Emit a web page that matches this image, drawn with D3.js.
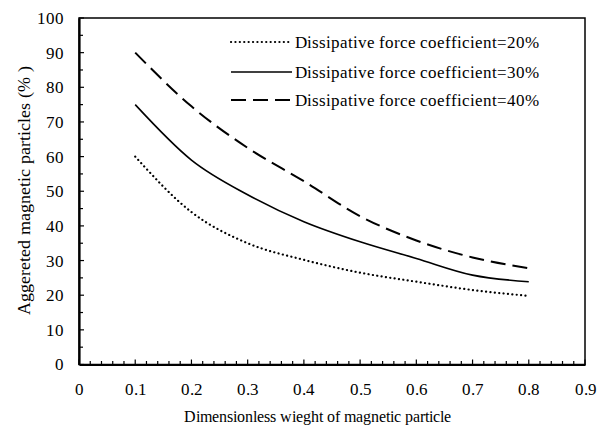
<!DOCTYPE html>
<html>
<head>
<meta charset="utf-8">
<script src="https://cdn.jsdelivr.net/npm/d3@7"></script>
<style>
  @font-face {
    font-family: "ChartSerif";
    src: local("Liberation Serif"), local("LiberationSerif"), local("LiberationSerif-Regular"),
         local("Tinos"), local("Tinos-Regular"), local("Times New Roman"), local("TimesNewRomanPSMT"),
         local("Nimbus Roman"), local("NimbusRoman-Regular"), local("Nimbus Roman No9 L"),
         local("FreeSerif"), local("Noto Serif"), local("NotoSerif-Regular"),
         local("DejaVu Serif"), local("DejaVuSerif");
  }
  html, body { margin: 0; padding: 0; background: #fff; }
  svg text { font-family: "ChartSerif", "Liberation Serif", "DejaVu Serif", serif !important; fill: #000; }
</style>
</head>
<body>
<svg id="chart" width="603" height="429"></svg>
<script>
// Dimensionless weight of the magnetic particle
const weights = [0.1, 0.2, 0.3, 0.4, 0.5, 0.6, 0.7, 0.8];
// Aggregated magnetic particles (%) per dissipative force coefficient
const coef20 = [60, 44, 35, 30.2, 26.5, 23.9, 21.5, 19.8];
const coef30 = [75, 59, 49, 41.2, 35.4, 30.6, 25.8, 23.9];
const coef40 = [90, 74.5, 62.5, 52.9, 42.8, 35.8, 30.9, 27.8];
const seriesNames = [
  "Dissipative force coefficient=20%",
  "Dissipative force coefficient=30%",
  "Dissipative force coefficient=40%"
];
const xTicks = [0, 0.1, 0.2, 0.3, 0.4, 0.5, 0.6, 0.7, 0.8, 0.9];
const yTicks = [0, 10, 20, 30, 40, 50, 60, 70, 80, 90, 100];

const svg = d3.select("#chart");
const m = { left: 79, right: 18, top: 18, bottom: 64.5 };
const W = 603, H = 429;

const x = d3.scaleLinear().domain([0, 0.9]).range([m.left, W - m.right]);
const y = d3.scaleLinear().domain([0, 100]).range([H - m.bottom, m.top]);

const FS = 17;
const SERIF = "ChartSerif, 'Liberation Serif', 'DejaVu Serif', serif";

// plot frame
svg.append("rect")
  .attr("x", x(0)).attr("y", y(100))
  .attr("width", x(0.9) - x(0)).attr("height", y(0) - y(100))
  .attr("fill", "none").attr("stroke", "#000").attr("stroke-width", 1.5);

// minor ticks (inside the frame)
const xMinor = d3.range(0, 0.9001, 0.02);
svg.append("g").selectAll("line").data(xMinor).join("line")
  .attr("x1", d => x(d)).attr("x2", d => x(d))
  .attr("y1", y(0)).attr("y2", (d) => y(0) - (Math.abs(d * 10 - Math.round(d * 10)) < 1e-6 ? 5 : 3.5))
  .attr("stroke", "#000").attr("stroke-width", 1.2);

const yMinor = d3.range(0, 100.001, 5);
svg.append("g").selectAll("line").data(yMinor).join("line")
  .attr("x1", x(0)).attr("x2", d => x(0) + (d % 10 === 0 ? 5 : 4))
  .attr("y1", d => y(d)).attr("y2", d => y(d))
  .attr("stroke", "#000").attr("stroke-width", 1.2);

// axes with labels
const xAxis = svg.append("g").attr("transform", `translate(0,${y(0)})`)
  .call(d3.axisBottom(x).tickValues(xTicks).tickSize(0).tickPadding(18)
    .tickFormat(d => d === 0 ? "0" : d3.format(".1f")(d)));
const yAxis = svg.append("g").attr("transform", `translate(${x(0)},0)`)
  .call(d3.axisLeft(y).tickValues(yTicks).tickSize(0).tickPadding(15));
[xAxis, yAxis].forEach(g => {
  g.attr("font-family", SERIF).attr("font-size", FS);
  g.select(".domain").attr("stroke", "#000").attr("stroke-width", 2.2);
  g.selectAll("text").attr("font-size", FS);
});

// axis titles
svg.append("text")
  .attr("x", 317).attr("y", 422)
  .attr("text-anchor", "middle").attr("font-size", 15.8)
  .text("Dimensionless wieght of magnetic particle");
svg.append("text")
  .attr("transform", `translate(30,190) rotate(-90)`)
  .attr("text-anchor", "middle").attr("font-size", 17.5)
  .text("Aggereted magnetic particles (% )");

// series
const styles = [
  { dash: "0.1,4.3", width: 2.2, cap: "round" },
  { dash: null, width: 1.6, cap: "butt" },
  { dash: "15,7", width: 2, cap: "butt" }
];
const allSeries = [coef20, coef30, coef40];
const line = d3.line()
  .x((d, i) => x(weights[i]))
  .y(d => y(d))
  .curve(d3.curveMonotoneX);

allSeries.forEach((vals, k) => {
  svg.append("path")
    .datum(vals)
    .attr("d", line)
    .attr("fill", "none")
    .attr("stroke", "#000")
    .attr("stroke-width", styles[k].width)
    .attr("stroke-linecap", styles[k].cap)
    .attr("stroke-dasharray", styles[k].dash);
});

// legend
const legY = [42, 72, 100];
seriesNames.forEach((name, k) => {
  svg.append("line")
    .attr("x1", 231).attr("x2", 292)
    .attr("y1", legY[k]).attr("y2", legY[k])
    .attr("stroke", "#000")
    .attr("stroke-width", styles[k].width)
    .attr("stroke-linecap", styles[k].cap)
    .attr("stroke-dasharray", styles[k].dash);
  svg.append("text")
    .attr("x", 295).attr("y", legY[k])
    .attr("dy", "0.35em").attr("font-size", FS)
    .text(name);
});
</script>
</body>
</html>
